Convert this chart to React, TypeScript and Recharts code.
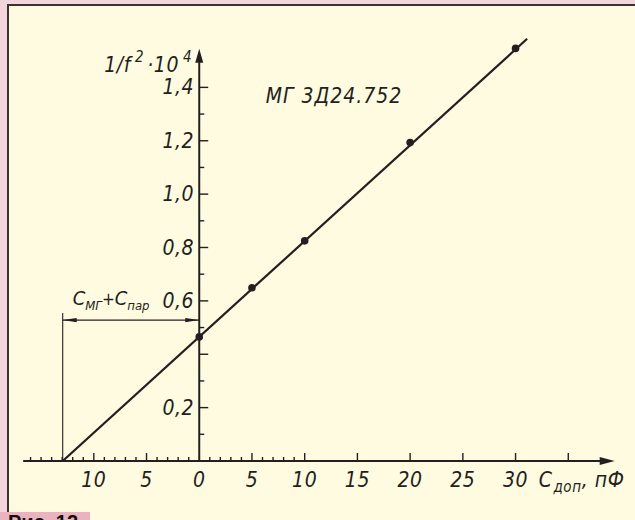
import { ReferenceDot, ReferenceLine, Scatter, ScatterChart, XAxis, YAxis } from 'recharts';

// measured points: added capacitance (pF) vs 1/f^2 * 10^4
const measuredC = [0, 5, 10, 20, 30];
const measuredInvF2 = [0.465, 0.649, 0.825, 1.193, 1.546];

// straight line through the points, extended to the C axis
const fitC = [-12.95, 31.1];
const fitInvF2 = [0, 1.582];

const xMinorTicks = [-16, -15, -14, -13, -12, -11, -9, -8, -7, -6, -4, -3, -2, -1, 1, 2, 3, 4, 6, 7, 8, 9];
const xMajorTicks = [-10, -5, 5, 10, 15, 20, 25, 30, 35];
const xLabelValues = [-10, -5, 0, 5, 10, 15, 20, 25, 30];
const xLabelTexts = ['10', '5', '0', '5', '10', '15', '20', '25', '30'];

const yTicks = [0.1, 0.2, 0.3, 0.4, 0.5, 0.6, 0.7, 0.8, 0.9, 1.0, 1.1, 1.2, 1.3, 1.4];
const yLabelValues = [0.2, 0.6, 0.8, 1.0, 1.2, 1.4];
const yLabelTexts = ['0,2', '0,6', '0,8', '1,0', '1,2', '1,4'];

const C_PARASITIC = -12.95;
const DIM_LEVEL = 0.528;

const measured = measuredC.map((c, i) => ({ x: c, y: measuredInvF2[i] }));
const fitLine = fitC.map((c, i) => ({ x: c, y: fitInvF2[i] }));

const INK = '#231f20';
const PAPER = '#fefbe1';
const FRAME = '#f3d6dc';
const FONT = "'Liberation Sans Narrow', 'DejaVu Sans Condensed', 'Liberation Sans', sans-serif";

const textStyle = { fontFamily: FONT, fontStyle: 'italic' as const, fill: INK, letterSpacing: 0.6 };

function XTick({ cx, cy, len, label }: any) {
  return (
    <g>
      <line x1={cx} y1={cy} x2={cx} y2={cy - len} stroke={INK} strokeWidth={1.4} />
      {label != null && (
        <text x={cx} y={cy + 26} textAnchor="middle" fontSize={21} style={textStyle}>
          {label}
        </text>
      )}
    </g>
  );
}

function YTick({ cx, cy, len, label }: any) {
  return (
    <g>
      <line x1={cx} y1={cy} x2={cx + len} y2={cy} stroke={INK} strokeWidth={1.4} />
      {label != null && (
        <text x={cx - 5} y={cy + 7} textAnchor="end" fontSize={21} style={textStyle}>
          {label}
        </text>
      )}
    </g>
  );
}

function XAxisArrow({ x1, y1, x2 }: any) {
  return (
    <g>
      <line x1={x1} y1={y1} x2={x2 - 6} y2={y1} stroke={INK} strokeWidth={2} />
      <polygon points={`${x2},${y1} ${x2 - 15},${y1 - 4} ${x2 - 15},${y1 + 4}`} fill={INK} />
      <text x={x2 + 10} y={y1 + 26} textAnchor="end" fontSize={21} style={textStyle}>
        C
        <tspan fontSize={15} dy={5} dx={1}>доп</tspan>
        <tspan dy={-5}>, пФ</tspan>
      </text>
    </g>
  );
}

function YAxisArrow({ x1, y1, y2 }: any) {
  const top = Math.min(y1, y2);
  const bottom = Math.max(y1, y2);
  return (
    <g>
      <line x1={x1} y1={bottom} x2={x1} y2={top + 6} stroke={INK} strokeWidth={2} />
      <polygon points={`${x1},${top} ${x1 - 4},${top + 14} ${x1 + 4},${top + 14}`} fill={INK} />
      <text x={x1 - 7} y={top + 23} textAnchor="end" fontSize={21} style={textStyle}>
        1/f
        <tspan fontSize={15} dy={-10} dx={4}>2</tspan>
        <tspan dy={10} dx={3}>·10</tspan>
        <tspan fontSize={15} dy={-10} dx={4}>4</tspan>
      </text>
    </g>
  );
}

function DimensionLine({ x1, y1, x2 }: any) {
  const l = Math.min(x1, x2);
  const r = Math.max(x1, x2);
  return (
    <g>
      <line x1={l} y1={y1} x2={r} y2={y1} stroke={INK} strokeWidth={1.1} />
      <polygon points={`${l},${y1} ${l + 14},${y1 - 2.2} ${l + 14},${y1 + 2.2}`} fill={INK} />
      <polygon points={`${r},${y1} ${r - 14},${y1 - 2.2} ${r - 14},${y1 + 2.2}`} fill={INK} />
      <text x={l + 10} y={y1 - 15} fontSize={20} style={{ ...textStyle, letterSpacing: 0 }}>
        C
        <tspan fontSize={13} dy={5}>МГ</tspan>
        <tspan dy={-5} fontSize={17}>+</tspan>
        <tspan>C</tspan>
        <tspan fontSize={13} dy={5}>пар</tspan>
      </text>
    </g>
  );
}

function ThinLine({ x1, y1, x2, y2 }: any) {
  return <line x1={x1} y1={y1} x2={x2} y2={y2} stroke={INK} strokeWidth={1.1} />;
}

function Title({ cx, cy }: any) {
  return (
    <text x={cx} y={cy} fontSize={21} style={{ ...textStyle, letterSpacing: 1 }}>
      МГ 3Д24.752
    </text>
  );
}

export default function App() {
  return (
    <div
      style={{
        position: 'fixed',
        left: 0,
        top: 0,
        width: 635,
        height: 520,
        background: FRAME,
        overflow: 'hidden',
      }}
    >
      <div
        style={{
          position: 'absolute',
          left: 7,
          top: 4,
          right: 0,
          bottom: 0,
          background: PAPER,
          borderTop: '2px solid #3b3236',
          borderLeft: '2px solid #3b3236',
        }}
      />
      <div
        style={{
          position: 'absolute',
          left: 0,
          top: 512,
          width: 90,
          height: 8,
          background: '#ebb3bd',
          overflow: 'hidden',
        }}
      >
        <span
          style={{
            position: 'absolute',
            left: 8,
            top: 0,
            fontFamily: "'Liberation Sans', sans-serif",
            fontWeight: 'bold',
            fontSize: 20,
            lineHeight: '20px',
            color: '#111',
            whiteSpace: 'nowrap',
          }}
        >
          Рис. 12
        </span>
      </div>
      <div style={{ position: 'absolute', left: 0, top: 0 }}>
        <ScatterChart width={635} height={520} margin={{ top: 34, right: 14, bottom: 59, left: 20 }}>
          <XAxis type="number" dataKey="x" domain={[-17, 40]} hide allowDataOverflow />
          <YAxis type="number" dataKey="y" domain={[0, 1.6]} hide allowDataOverflow />

          <ReferenceLine
            segment={[{ x: -16.7, y: 0 }, { x: 39.4, y: 0 }]}
            shape={(p: any) => <XAxisArrow {...p} />}
          />
          <ReferenceLine
            segment={[{ x: 0, y: 0 }, { x: 0, y: 1.545 }]}
            shape={(p: any) => <YAxisArrow {...p} />}
          />

          {xMinorTicks.map((v) => (
            <ReferenceDot key={`xm${v}`} x={v} y={0} shape={(p: any) => <XTick {...p} len={4} />} />
          ))}
          {xMajorTicks.map((v) => (
            <ReferenceDot key={`xM${v}`} x={v} y={0} shape={(p: any) => <XTick {...p} len={8} />} />
          ))}
          {xLabelValues.map((v, i) => (
            <ReferenceDot
              key={`xl${v}`}
              x={v}
              y={0}
              shape={(p: any) => <XTick {...p} len={0} label={xLabelTexts[i]} />}
            />
          ))}

          {yTicks.map((v, i) => (
            <ReferenceDot
              key={`y${v}`}
              x={0}
              y={v}
              shape={(p: any) => <YTick {...p} len={i % 2 === 1 ? 9 : 5} />}
            />
          ))}
          {yLabelValues.map((v, i) => (
            <ReferenceDot
              key={`yl${v}`}
              x={0}
              y={v}
              shape={(p: any) => <YTick {...p} len={0} label={yLabelTexts[i]} />}
            />
          ))}

          <ReferenceLine
            segment={[{ x: C_PARASITIC, y: 0 }, { x: C_PARASITIC, y: 0.555 }]}
            shape={(p: any) => <ThinLine {...p} />}
          />
          <ReferenceLine
            segment={[{ x: C_PARASITIC, y: DIM_LEVEL }, { x: 0, y: DIM_LEVEL }]}
            shape={(p: any) => <DimensionLine {...p} />}
          />

          <ReferenceDot x={6.3} y={1.34} shape={(p: any) => <Title {...p} />} />

          <Scatter
            data={fitLine}
            fill={INK}
            line={{ stroke: INK, strokeWidth: 2.2 }}
            shape={() => <g />}
            isAnimationActive={false}
          />
          <Scatter
            data={measured}
            fill={INK}
            shape={(p: any) => <circle cx={p.cx} cy={p.cy} r={3.8} fill={INK} />}
            isAnimationActive={false}
          />
        </ScatterChart>
      </div>
    </div>
  );
}
